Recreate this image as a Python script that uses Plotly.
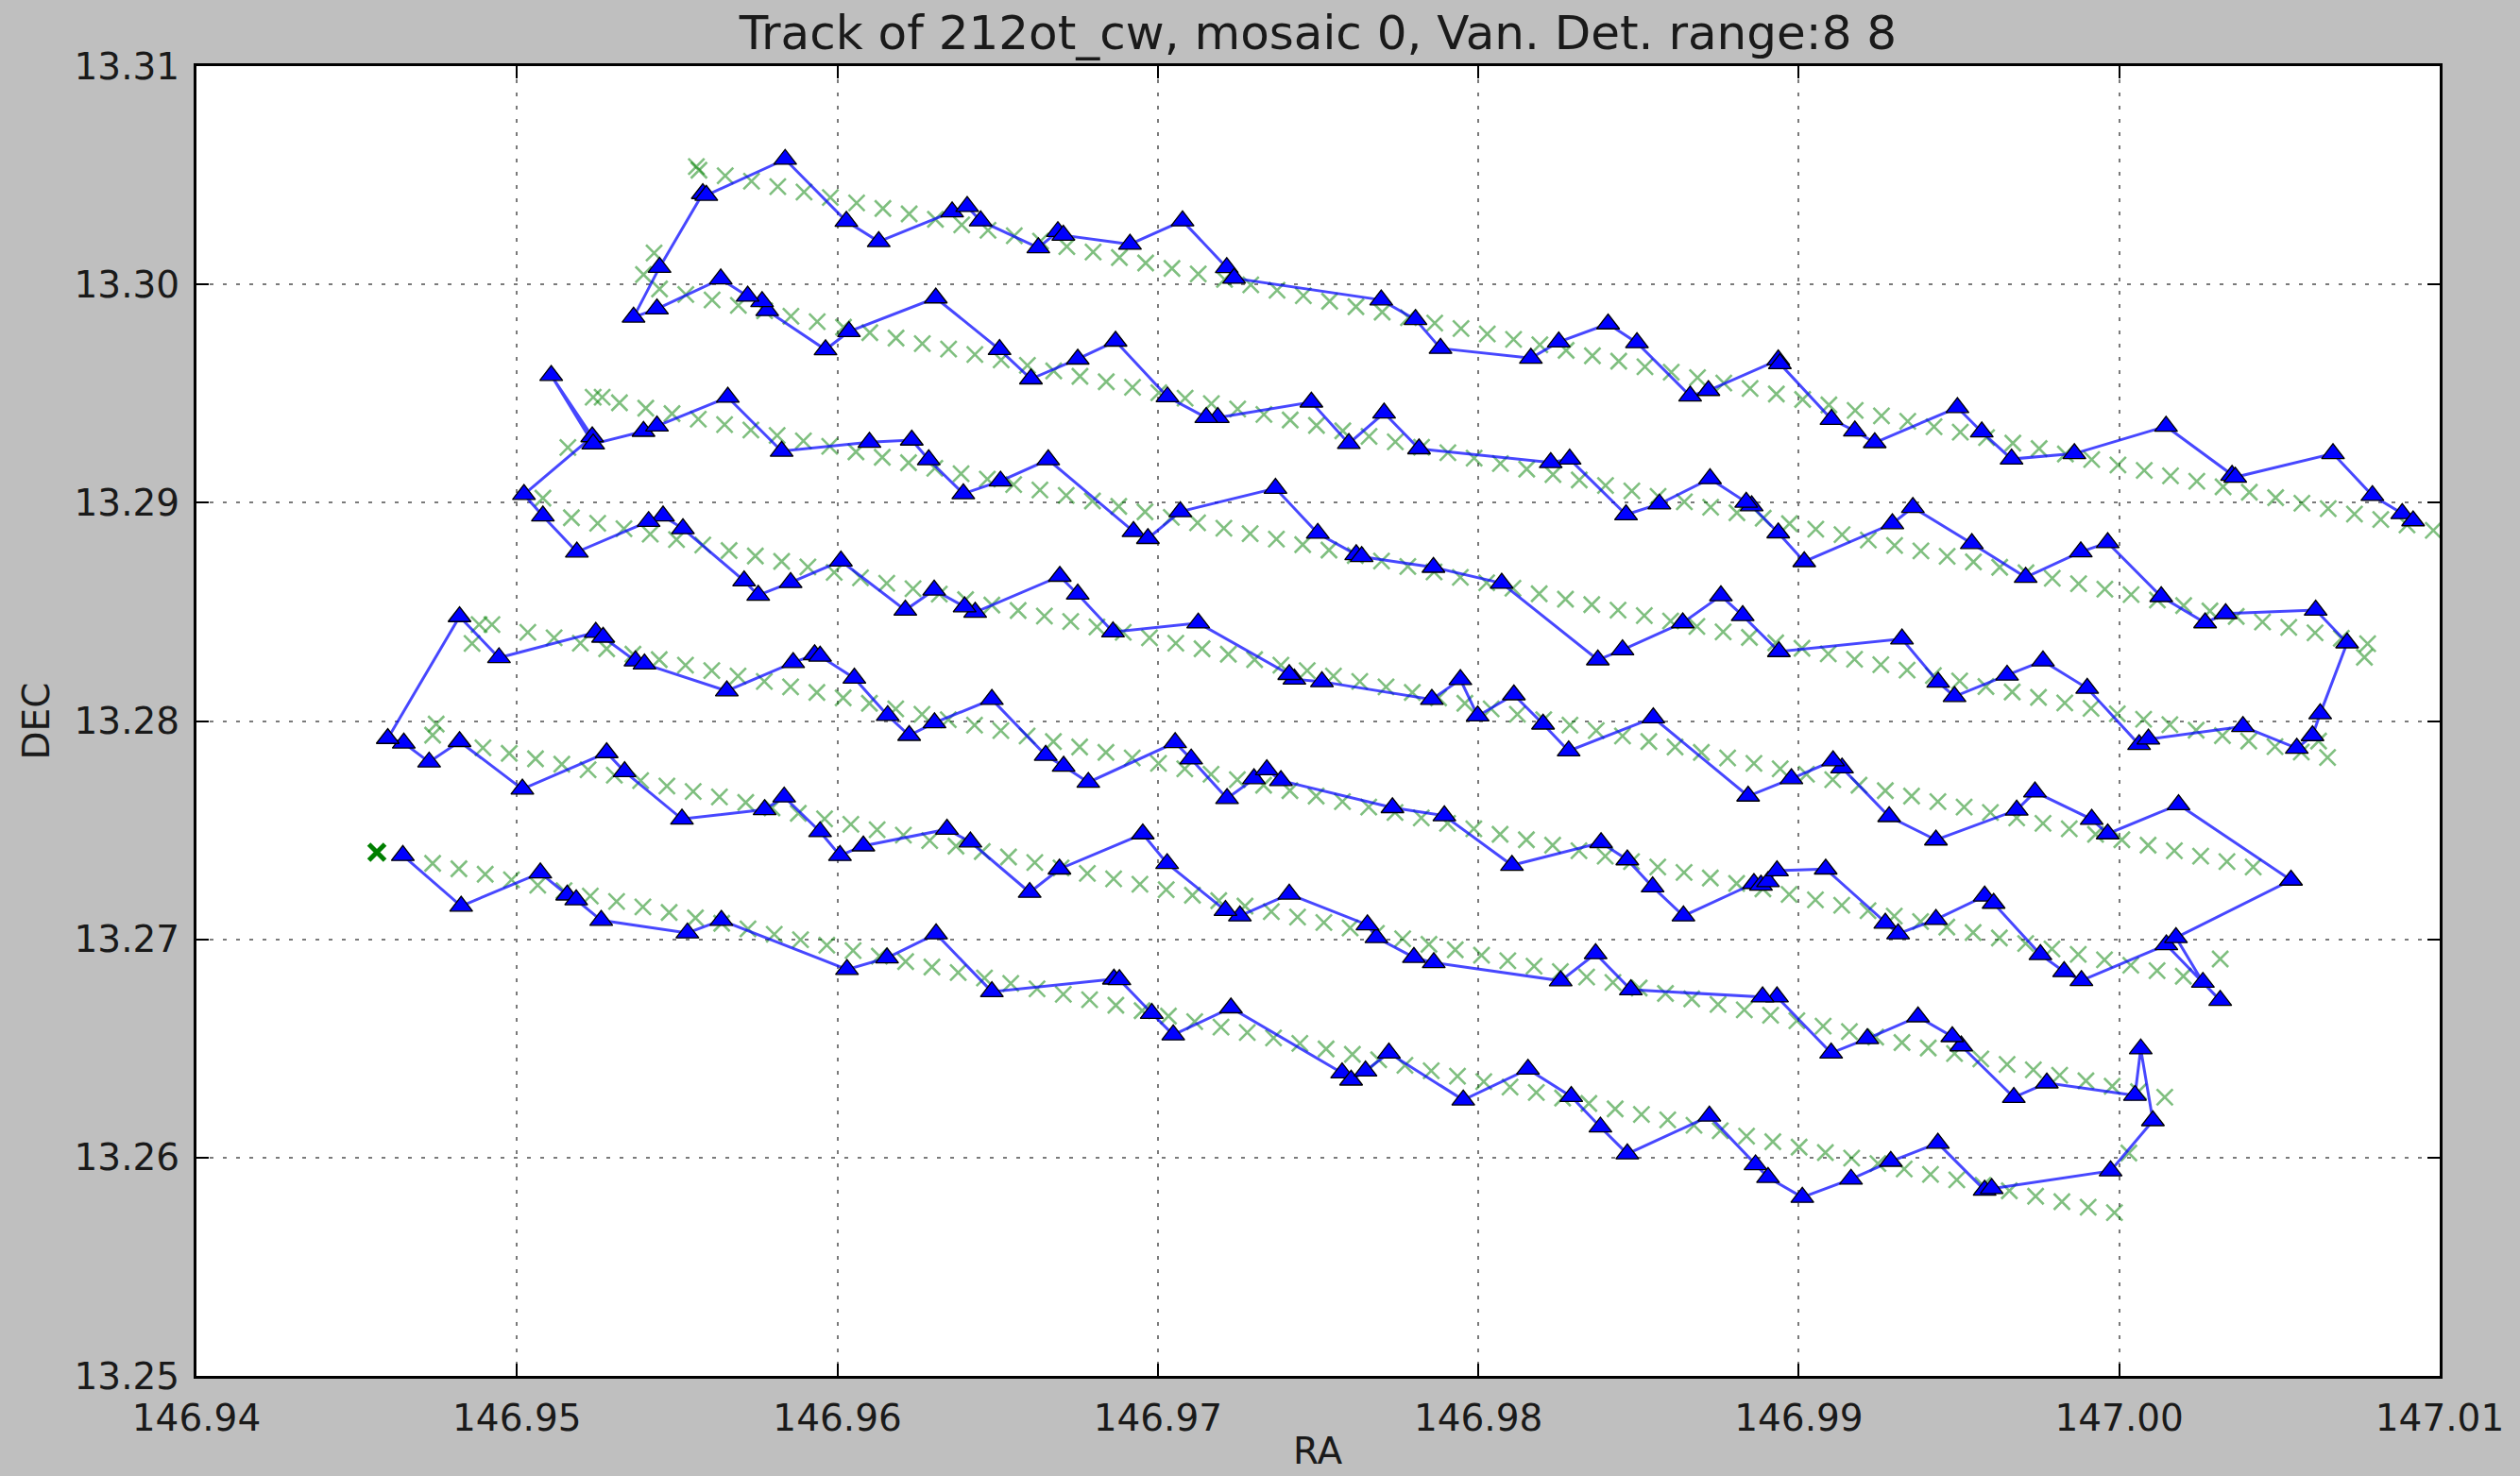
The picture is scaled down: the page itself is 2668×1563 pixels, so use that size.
import plotly.graph_objects as go

# ---------------- observed track (blue triangles), row by row, in path order ----------------
row7_ra = [146.94644, 146.94826, 146.95073, 146.95157, 146.95185, 146.95263, 146.95532, 146.95638, 146.96030, 146.96155,
           146.96308, 146.96482, 146.96863, 146.96880, 146.96981, 146.97048, 146.97228, 146.97575, 146.97603, 146.97648,
           146.97721, 146.97953, 146.98155, 146.98290, 146.98381, 146.98465, 146.98721, 146.98865, 146.98904, 146.99011,
           146.99163, 146.99287, 146.99434, 146.99580, 146.99602, 146.99973, 147.00105, 147.00067, 147.00049]
row7_dec = [13.27384, 13.27152, 13.27304, 13.27203, 13.27181, 13.27087, 13.27029, 13.27087, 13.26862, 13.26915,
            13.27025, 13.26760, 13.26818, 13.26815, 13.26661, 13.26562, 13.26686, 13.26388, 13.26355, 13.26397,
            13.26479, 13.26264, 13.26405, 13.26280, 13.26140, 13.26017, 13.26190, 13.25967, 13.25909, 13.25818,
            13.25901, 13.25983, 13.26066, 13.25851, 13.25858, 13.25939, 13.26169, 13.26498, 13.26285]

row6_ra = [146.99774, 146.99671, 146.99507, 146.99479, 146.99372, 146.99214, 146.99101, 146.98932, 146.98887, 146.98476,
           146.98366, 146.98257, 146.97861, 146.97799, 146.97682, 146.97654, 146.97410, 146.97256, 146.97211, 146.97029,
           146.96953, 146.96693, 146.96600, 146.96415, 146.96342, 146.96081, 146.96008, 146.95946, 146.95834, 146.95773,
           146.95515, 146.95336, 146.95280, 146.95017, 146.94821, 146.94726, 146.94647, 146.94597]
row6_dec = [13.26342, 13.26276, 13.26512, 13.26554, 13.26645, 13.26545, 13.26479, 13.26736, 13.26736, 13.26769,
            13.26934, 13.26810, 13.26893, 13.26917, 13.27008, 13.27066, 13.27207, 13.27107, 13.27132, 13.27347,
            13.27483, 13.27322, 13.27215, 13.27446, 13.27504, 13.27428, 13.27384, 13.27493, 13.27652, 13.27594,
            13.27551, 13.27768, 13.27855, 13.27688, 13.27906, 13.27812, 13.27899, 13.27920]

row5_ra = [146.94821, 146.94944, 146.95246, 146.95269, 146.95370, 146.95398, 146.95655, 146.95862, 146.95929, 146.95946,
           146.96053, 146.96157, 146.96224, 146.96303, 146.96482, 146.96650, 146.96706, 146.96783, 146.97054, 146.97104,
           146.97216, 146.97300, 146.97340, 146.97384, 146.97732, 146.97894, 146.98105, 146.98383, 146.98465, 146.98544,
           146.98640, 146.98860, 146.98882, 146.98904, 146.98932, 146.99084, 146.99270, 146.99310, 146.99428, 146.99580,
           146.99608, 146.99754, 146.99828, 146.99882, 147.00147, 147.00315, 147.00261, 147.00177, 147.00536]
row5_dec = [13.28478, 13.28290, 13.28406, 13.28384, 13.28275, 13.28261, 13.28138, 13.28268, 13.28304, 13.28297,
            13.28196, 13.28025, 13.27934, 13.27992, 13.28099, 13.27843, 13.27793, 13.27719, 13.27901, 13.27826,
            13.27645, 13.27736, 13.27777, 13.27727, 13.27603, 13.27566, 13.27339, 13.27443, 13.27364, 13.27240,
            13.27107, 13.27256, 13.27248, 13.27264, 13.27314, 13.27322, 13.27074, 13.27025, 13.27091, 13.27198,
            13.27165, 13.26930, 13.26852, 13.26811, 13.26975, 13.26720, 13.26803, 13.27008, 13.27271]

row4_ra = [147.00185, 146.99964, 146.99914, 146.99737, 146.99680, 146.99428, 146.99282, 146.99135, 146.99107, 146.98977,
           146.98842, 146.98546, 146.98282, 146.98202, 146.98111, 146.97998, 146.97944, 146.97855, 146.97512, 146.97426,
           146.97410, 146.97126, 146.96860, 146.96750, 146.96694, 146.96430, 146.96397, 146.96302, 146.96212, 146.96011,
           146.95854, 146.95753, 146.95709, 146.95518, 146.95456, 146.95411, 146.95187, 146.95081, 146.95022]
row4_dec = [13.27617, 13.27483, 13.27550, 13.27675, 13.27592, 13.27455, 13.27562, 13.27785, 13.27818, 13.27736,
            13.27656, 13.28015, 13.27863, 13.27986, 13.28120, 13.28023, 13.28190, 13.28099, 13.28180, 13.28192,
            13.28213, 13.28449, 13.28408, 13.28581, 13.28663, 13.28498, 13.28523, 13.28600, 13.28508, 13.28733,
            13.28634, 13.28576, 13.28642, 13.28881, 13.28939, 13.28914, 13.28774, 13.28939, 13.29038]

row3_ra = [146.95235, 146.95107, 146.95238, 146.95395, 146.95437, 146.95658, 146.95826, 146.96100, 146.96232, 146.96285,
           146.96393, 146.96509, 146.96658, 146.96924, 146.96969, 146.97070, 146.97367, 146.97499, 146.97619, 146.97636,
           146.97860, 146.98073, 146.98373, 146.98450, 146.98638, 146.98757, 146.98825, 146.98938, 146.99322, 146.99435,
           146.99486, 146.99650, 146.99762, 146.99900, 147.00062, 147.00091, 147.00386, 147.00554, 147.00603, 147.00627,
           147.00711]
row3_dec = [13.29302, 13.29583, 13.29269, 13.29327, 13.29351, 13.29483, 13.29236, 13.29277, 13.29287, 13.29197,
            13.29041, 13.29099, 13.29197, 13.28868, 13.28836, 13.28959, 13.29066, 13.28860, 13.28762, 13.28753,
            13.28704, 13.28631, 13.28280, 13.28326, 13.28450, 13.28574, 13.28483, 13.28318, 13.28376, 13.28178,
            13.28112, 13.28210, 13.28275, 13.28150, 13.27892, 13.27917, 13.27975, 13.27875, 13.27933, 13.28033,
            13.28358]

row2_ra = [147.00613, 147.00332, 147.00268, 147.00131, 146.99964, 146.99880, 146.99708, 146.99540, 146.99356, 146.99292,
           146.99017, 146.98936, 146.98853, 146.98836, 146.98723, 146.98565, 146.98461, 146.98285, 146.98226, 146.97815,
           146.97706, 146.97596, 146.97479, 146.97187, 146.97151, 146.97030, 146.96868, 146.96750, 146.96604, 146.96506,
           146.96307, 146.96036, 146.95963, 146.95781, 146.95765, 146.95720, 146.95636, 146.95437, 146.95364]
row2_dec = [13.28508, 13.28492, 13.28450, 13.28570, 13.28817, 13.28775, 13.28658, 13.28813, 13.28978, 13.28904,
            13.28730, 13.28862, 13.28986, 13.29002, 13.29110, 13.28994, 13.28945, 13.29200, 13.29184, 13.29247,
            13.29411, 13.29271, 13.29461, 13.29390, 13.29390, 13.29485, 13.29740, 13.29658, 13.29567, 13.29702,
            13.29938, 13.29784, 13.29701, 13.29880, 13.29921, 13.29946, 13.30025, 13.29888, 13.29850]

row1_ra = [146.95445, 146.95580, 146.95591, 146.95837, 146.96028, 146.96129, 146.96358, 146.96405, 146.96447, 146.96627,
           146.96688, 146.96705, 146.96913, 146.97077, 146.97215, 146.97238, 146.97697, 146.97804, 146.97882, 146.98164,
           146.98251, 146.98405, 146.98495, 146.98661, 146.98718, 146.98936, 146.98941, 146.99102, 146.99175, 146.99237,
           146.99495, 146.99571, 146.99664, 146.99860, 147.00146, 147.00352, 147.00362, 147.00667, 147.00790, 147.00883,
           147.00917]
row1_dec = [13.30078, 13.30416, 13.30408, 13.30573, 13.30289, 13.30196, 13.30332, 13.30357, 13.30291, 13.30168,
            13.30242, 13.30225, 13.30184, 13.30291, 13.30077, 13.30028, 13.29929, 13.29839, 13.29707, 13.29662,
            13.29736, 13.29819, 13.29733, 13.29489, 13.29514, 13.29654, 13.29637, 13.29382, 13.29329, 13.29275,
            13.29436, 13.29324, 13.29200, 13.29225, 13.29350, 13.29125, 13.29117, 13.29225, 13.29033, 13.28950,
            13.28917]

# ---------------- planned positions (green x), row by row ----------------
plan1_ra = [146.95568, 146.95650, 146.95732, 146.95814, 146.95896, 146.95978, 146.96060, 146.96142, 146.96224, 146.96306,
            146.96388, 146.96470, 146.96552, 146.96634, 146.96716, 146.96798, 146.96880, 146.96962, 146.97044, 146.97126,
            146.97208, 146.97290, 146.97372, 146.97454, 146.97536, 146.97618, 146.97700, 146.97782, 146.97864, 146.97946,
            146.98028, 146.98110, 146.98192, 146.98274, 146.98356, 146.98438, 146.98520, 146.98602, 146.98684, 146.98766,
            146.98848, 146.98930, 146.99012, 146.99094, 146.99176, 146.99258, 146.99340, 146.99422, 146.99504, 146.99586,
            146.99668, 146.99750, 146.99832, 146.99914, 146.99996, 147.00078, 147.00160, 147.00242, 147.00324, 147.00406,
            147.00488, 147.00570, 147.00652, 147.00734, 147.00816, 147.00898, 147.00980]
plan1_dec = [13.30523, 13.30498, 13.30473, 13.30448, 13.30423, 13.30398, 13.30373, 13.30348, 13.30323, 13.30298,
             13.30273, 13.30248, 13.30223, 13.30198, 13.30173, 13.30148, 13.30123, 13.30098, 13.30073, 13.30048,
             13.30023, 13.29998, 13.29973, 13.29948, 13.29923, 13.29898, 13.29873, 13.29848, 13.29823, 13.29798,
             13.29773, 13.29748, 13.29723, 13.29698, 13.29673, 13.29648, 13.29623, 13.29598, 13.29573, 13.29548,
             13.29523, 13.29498, 13.29473, 13.29448, 13.29423, 13.29398, 13.29373, 13.29348, 13.29323, 13.29298,
             13.29273, 13.29248, 13.29223, 13.29198, 13.29173, 13.29148, 13.29123, 13.29098, 13.29073, 13.29048,
             13.29023, 13.28998, 13.28973, 13.28948, 13.28923, 13.28898, 13.28873]

plan2_ra = [146.95445, 146.95527, 146.95609, 146.95691, 146.95773, 146.95855, 146.95937, 146.96019, 146.96101, 146.96183,
            146.96265, 146.96347, 146.96429, 146.96511, 146.96593, 146.96675, 146.96757, 146.96839, 146.96921, 146.97003,
            146.97085, 146.97167, 146.97249, 146.97331, 146.97413, 146.97495, 146.97577, 146.97659, 146.97741, 146.97823,
            146.97905, 146.97987, 146.98069, 146.98151, 146.98233, 146.98315, 146.98397, 146.98479, 146.98561, 146.98643,
            146.98725, 146.98807, 146.98889, 146.98971, 146.99053, 146.99135, 146.99217, 146.99299, 146.99381, 146.99463,
            146.99545, 146.99627, 146.99709, 146.99791, 146.99873, 146.99955, 147.00037, 147.00119, 147.00201, 147.00283,
            147.00365, 147.00447, 147.00529, 147.00611, 147.00693, 147.00775]
plan2_dec = [13.29979, 13.29954, 13.29929, 13.29904, 13.29879, 13.29854, 13.29829, 13.29804, 13.29779, 13.29754,
             13.29729, 13.29704, 13.29679, 13.29654, 13.29629, 13.29604, 13.29579, 13.29554, 13.29529, 13.29504,
             13.29479, 13.29454, 13.29429, 13.29404, 13.29379, 13.29354, 13.29329, 13.29304, 13.29279, 13.29254,
             13.29229, 13.29204, 13.29179, 13.29154, 13.29129, 13.29104, 13.29079, 13.29054, 13.29029, 13.29004,
             13.28979, 13.28954, 13.28929, 13.28904, 13.28879, 13.28854, 13.28829, 13.28804, 13.28779, 13.28754,
             13.28729, 13.28704, 13.28679, 13.28654, 13.28629, 13.28604, 13.28579, 13.28554, 13.28529, 13.28504,
             13.28479, 13.28454, 13.28429, 13.28404, 13.28379, 13.28354]

plan3_ra = [146.95238, 146.95320, 146.95402, 146.95484, 146.95566, 146.95648, 146.95730, 146.95812, 146.95894, 146.95976,
            146.96058, 146.96140, 146.96222, 146.96304, 146.96386, 146.96468, 146.96550, 146.96632, 146.96714, 146.96796,
            146.96878, 146.96960, 146.97042, 146.97124, 146.97206, 146.97288, 146.97370, 146.97452, 146.97534, 146.97616,
            146.97698, 146.97780, 146.97862, 146.97944, 146.98026, 146.98108, 146.98190, 146.98272, 146.98354, 146.98436,
            146.98518, 146.98600, 146.98682, 146.98764, 146.98846, 146.98928, 146.99010, 146.99092, 146.99174, 146.99256,
            146.99338, 146.99420, 146.99502, 146.99584, 146.99666, 146.99748, 146.99830, 146.99912, 146.99994, 147.00076,
            147.00158, 147.00240, 147.00322, 147.00404, 147.00486, 147.00568, 147.00650]
plan3_dec = [13.29483, 13.29458, 13.29433, 13.29408, 13.29383, 13.29358, 13.29333, 13.29308, 13.29283, 13.29258,
             13.29233, 13.29208, 13.29183, 13.29158, 13.29133, 13.29108, 13.29083, 13.29058, 13.29033, 13.29008,
             13.28983, 13.28958, 13.28933, 13.28908, 13.28883, 13.28858, 13.28833, 13.28808, 13.28783, 13.28758,
             13.28733, 13.28708, 13.28683, 13.28658, 13.28633, 13.28608, 13.28583, 13.28558, 13.28533, 13.28508,
             13.28483, 13.28458, 13.28433, 13.28408, 13.28383, 13.28358, 13.28333, 13.28308, 13.28283, 13.28258,
             13.28233, 13.28208, 13.28183, 13.28158, 13.28133, 13.28108, 13.28083, 13.28058, 13.28033, 13.28008,
             13.27983, 13.27958, 13.27933, 13.27908, 13.27883, 13.27858, 13.27833]

plan4_ra = [146.95170, 146.95252, 146.95334, 146.95416, 146.95498, 146.95580, 146.95662, 146.95744, 146.95826, 146.95908,
            146.95990, 146.96072, 146.96154, 146.96236, 146.96318, 146.96400, 146.96482, 146.96564, 146.96646, 146.96728,
            146.96810, 146.96892, 146.96974, 146.97056, 146.97138, 146.97220, 146.97302, 146.97384, 146.97466, 146.97548,
            146.97630, 146.97712, 146.97794, 146.97876, 146.97958, 146.98040, 146.98122, 146.98204, 146.98286, 146.98368,
            146.98450, 146.98532, 146.98614, 146.98696, 146.98778, 146.98860, 146.98942, 146.99024, 146.99106, 146.99188,
            146.99270, 146.99352, 146.99434, 146.99516, 146.99598, 146.99680, 146.99762, 146.99844, 146.99926, 147.00008,
            147.00090, 147.00172, 147.00254, 147.00336, 147.00418]
plan4_dec = [13.28931, 13.28906, 13.28881, 13.28856, 13.28831, 13.28806, 13.28781, 13.28756, 13.28731, 13.28706,
             13.28681, 13.28656, 13.28631, 13.28606, 13.28581, 13.28556, 13.28531, 13.28506, 13.28481, 13.28456,
             13.28431, 13.28406, 13.28381, 13.28356, 13.28331, 13.28306, 13.28281, 13.28256, 13.28231, 13.28206,
             13.28181, 13.28156, 13.28131, 13.28106, 13.28081, 13.28056, 13.28031, 13.28006, 13.27981, 13.27956,
             13.27931, 13.27906, 13.27881, 13.27856, 13.27831, 13.27806, 13.27781, 13.27756, 13.27731, 13.27706,
             13.27681, 13.27656, 13.27631, 13.27606, 13.27581, 13.27556, 13.27531, 13.27506, 13.27481, 13.27456,
             13.27431, 13.27406, 13.27381, 13.27356, 13.27331]

plan5_ra = [146.95034, 146.95116, 146.95198, 146.95280, 146.95362, 146.95444, 146.95526, 146.95608, 146.95690, 146.95772,
            146.95854, 146.95936, 146.96018, 146.96100, 146.96182, 146.96264, 146.96346, 146.96428, 146.96510, 146.96592,
            146.96674, 146.96756, 146.96838, 146.96920, 146.97002, 146.97084, 146.97166, 146.97248, 146.97330, 146.97412,
            146.97494, 146.97576, 146.97658, 146.97740, 146.97822, 146.97904, 146.97986, 146.98068, 146.98150, 146.98232,
            146.98314, 146.98396, 146.98478, 146.98560, 146.98642, 146.98724, 146.98806, 146.98888, 146.98970, 146.99052,
            146.99134, 146.99216, 146.99298, 146.99380, 146.99462, 146.99544, 146.99626, 146.99708, 146.99790, 146.99872,
            146.99954, 147.00036, 147.00118, 147.00200]
plan5_dec = [13.28406, 13.28381, 13.28356, 13.28331, 13.28306, 13.28281, 13.28256, 13.28231, 13.28206, 13.28181,
             13.28156, 13.28131, 13.28106, 13.28081, 13.28056, 13.28031, 13.28006, 13.27981, 13.27956, 13.27931,
             13.27906, 13.27881, 13.27856, 13.27831, 13.27806, 13.27781, 13.27756, 13.27731, 13.27706, 13.27681,
             13.27656, 13.27631, 13.27606, 13.27581, 13.27556, 13.27531, 13.27506, 13.27481, 13.27456, 13.27431,
             13.27406, 13.27381, 13.27356, 13.27331, 13.27306, 13.27281, 13.27256, 13.27231, 13.27206, 13.27181,
             13.27156, 13.27131, 13.27106, 13.27081, 13.27056, 13.27031, 13.27006, 13.26981, 13.26956, 13.26931,
             13.26906, 13.26881, 13.26856, 13.26831]

plan6_ra = [146.94894, 146.94976, 146.95058, 146.95140, 146.95222, 146.95304, 146.95386, 146.95468, 146.95550, 146.95632,
            146.95714, 146.95796, 146.95878, 146.95960, 146.96042, 146.96124, 146.96206, 146.96288, 146.96370, 146.96452,
            146.96534, 146.96616, 146.96698, 146.96780, 146.96862, 146.96944, 146.97026, 146.97108, 146.97190, 146.97272,
            146.97354, 146.97436, 146.97518, 146.97600, 146.97682, 146.97764, 146.97846, 146.97928, 146.98010, 146.98092,
            146.98174, 146.98256, 146.98338, 146.98420, 146.98502, 146.98584, 146.98666, 146.98748, 146.98830, 146.98912,
            146.98994, 146.99076, 146.99158, 146.99240, 146.99322, 146.99404, 146.99486, 146.99568, 146.99650, 146.99732,
            146.99814, 146.99896, 146.99978, 147.00060, 147.00142]
plan6_dec = [13.27877, 13.27852, 13.27827, 13.27802, 13.27777, 13.27752, 13.27727, 13.27702, 13.27677, 13.27652,
             13.27627, 13.27602, 13.27577, 13.27552, 13.27527, 13.27502, 13.27477, 13.27452, 13.27427, 13.27402,
             13.27377, 13.27352, 13.27327, 13.27302, 13.27277, 13.27252, 13.27227, 13.27202, 13.27177, 13.27152,
             13.27127, 13.27102, 13.27077, 13.27052, 13.27027, 13.27002, 13.26977, 13.26952, 13.26927, 13.26902,
             13.26877, 13.26852, 13.26827, 13.26802, 13.26777, 13.26752, 13.26727, 13.26702, 13.26677, 13.26652,
             13.26627, 13.26602, 13.26577, 13.26552, 13.26527, 13.26502, 13.26477, 13.26452, 13.26427, 13.26402,
             13.26377, 13.26352, 13.26327, 13.26302, 13.26277]

plan7_ra = [146.94737, 146.94819, 146.94901, 146.94983, 146.95065, 146.95147, 146.95229, 146.95311, 146.95393, 146.95475,
            146.95557, 146.95639, 146.95721, 146.95803, 146.95885, 146.95967, 146.96049, 146.96131, 146.96213, 146.96295,
            146.96377, 146.96459, 146.96541, 146.96623, 146.96705, 146.96787, 146.96869, 146.96951, 146.97033, 146.97115,
            146.97197, 146.97279, 146.97361, 146.97443, 146.97525, 146.97607, 146.97689, 146.97771, 146.97853, 146.97935,
            146.98017, 146.98099, 146.98181, 146.98263, 146.98345, 146.98427, 146.98509, 146.98591, 146.98673, 146.98755,
            146.98837, 146.98919, 146.99001, 146.99083, 146.99165, 146.99247, 146.99329, 146.99411, 146.99493, 146.99575,
            146.99657, 146.99739, 146.99821, 146.99903, 146.99985]
plan7_dec = [13.27348, 13.27323, 13.27298, 13.27273, 13.27248, 13.27223, 13.27198, 13.27173, 13.27148, 13.27123,
             13.27098, 13.27073, 13.27048, 13.27023, 13.26998, 13.26973, 13.26948, 13.26923, 13.26898, 13.26873,
             13.26848, 13.26823, 13.26798, 13.26773, 13.26748, 13.26723, 13.26698, 13.26673, 13.26648, 13.26623,
             13.26598, 13.26573, 13.26548, 13.26523, 13.26498, 13.26473, 13.26448, 13.26423, 13.26398, 13.26373,
             13.26348, 13.26323, 13.26298, 13.26273, 13.26248, 13.26223, 13.26198, 13.26173, 13.26148, 13.26123,
             13.26098, 13.26073, 13.26048, 13.26023, 13.25998, 13.25973, 13.25948, 13.25923, 13.25898, 13.25873,
             13.25848, 13.25823, 13.25798, 13.25773, 13.25748]

# odd planned points near the turnarounds
plan_extra_ra = [146.95560, 146.95428, 146.95395, 147.00765, 146.95266, 146.95159, 147.00622, 146.95081,
                 146.94882, 146.94922, 146.94860, 147.00315, 146.94748, 146.94737, 147.00030]
plan_extra_dec = [13.30540, 13.30144, 13.30045, 13.28292, 13.29483, 13.29253, 13.27908, 13.29021,
                  13.28442, 13.28442, 13.28355, 13.26910, 13.27986, 13.27935, 13.26021]

# source position (bold green x)
source_ra = [146.94563]
source_dec = [13.27399]

x_ticks = [146.94, 146.95, 146.96, 146.97, 146.98, 146.99, 147.00, 147.01]
x_labels = ["146.94", "146.95", "146.96", "146.97", "146.98", "146.99", "147.00", "147.01"]
y_ticks = [13.25, 13.26, 13.27, 13.28, 13.29, 13.30, 13.31]
y_labels = ["13.25", "13.26", "13.27", "13.28", "13.29", "13.30", "13.31"]

title_text = "Track of 212ot_cw, mosaic 0, Van. Det. range:8 8"

# ---------------- assemble ----------------
track_ra = row7_ra + row6_ra + row5_ra + row4_ra + row3_ra + row2_ra + row1_ra
track_dec = row7_dec + row6_dec + row5_dec + row4_dec + row3_dec + row2_dec + row1_dec
plan_ra = plan1_ra + plan2_ra + plan3_ra + plan4_ra + plan5_ra + plan6_ra + plan7_ra + plan_extra_ra
plan_dec = plan1_dec + plan2_dec + plan3_dec + plan4_dec + plan5_dec + plan6_dec + plan7_dec + plan_extra_dec

FONT = "DejaVu Sans"
W, H = 2668, 1563
L, R, T, B = 208, 85, 70, 106

fig = go.Figure()
fig.add_trace(go.Scatter(
    x=plan_ra, y=plan_dec, mode="markers",
    marker=dict(symbol="x-thin-open", size=17, color="rgba(0,128,0,0.5)",
                line=dict(width=2.6, color="rgba(0,128,0,0.5)")),
    hoverinfo="skip", showlegend=False))
fig.add_trace(go.Scatter(
    x=track_ra, y=track_dec, mode="lines+markers",
    line=dict(color="rgba(0,0,255,0.72)", width=3),
    marker=dict(symbol="triangle-up", size=21, color="#0000ff",
                line=dict(width=1.3, color="black")),
    showlegend=False))
fig.add_trace(go.Scatter(
    x=source_ra, y=source_dec, mode="markers",
    marker=dict(symbol="x-thin-open", size=17, color="#007f00",
                line=dict(width=5, color="#007f00")),
    showlegend=False))

axis_common = dict(
    showgrid=True, gridcolor="#7a7a7a", gridwidth=2, griddash="4px,10px",
    showline=True, linecolor="black", linewidth=3, mirror="ticks",
    ticks="inside", ticklen=13, tickwidth=2, tickcolor="black",
    tickfont=dict(family=FONT, size=39, color="#1a1a1a"),
    zeroline=False,
)
fig.update_xaxes(range=[146.94, 147.01], tickvals=x_ticks, ticktext=x_labels,
                 ticklabelstandoff=8, **axis_common)
fig.update_yaxes(range=[13.25, 13.31], tickvals=y_ticks, ticktext=y_labels,
                 ticklabelstandoff=7, **axis_common)

pw = W - L - R
ph = H - T - B
fig.update_layout(
    width=W, height=H,
    margin=dict(l=L, r=R, t=T, b=B, pad=0),
    paper_bgcolor="#bfbfbf", plot_bgcolor="white",
    font=dict(family=FONT, color="#1a1a1a"),
    title=dict(text=title_text, x=0.5, xref="paper", xanchor="center",
               y=1 - 34 / H, yref="container", yanchor="middle",
               font=dict(family=FONT, size=50, color="#1a1a1a")),
    annotations=[
        dict(text="RA", xref="paper", yref="paper", x=0.5, y=-(1536 - (H - B)) / ph,
             xanchor="center", yanchor="middle", showarrow=False,
             font=dict(family=FONT, size=39, color="#1a1a1a")),
        dict(text="DEC", xref="paper", yref="paper", x=-(L - 38) / pw, y=0.5,
             xanchor="center", yanchor="middle", textangle=-90, showarrow=False,
             font=dict(family=FONT, size=39, color="#1a1a1a")),
    ],
)

fig.write_html("out.html", config={"displayModeBar": False},
               post_script="document.body.style.margin='0';document.body.style.overflow='hidden';")
